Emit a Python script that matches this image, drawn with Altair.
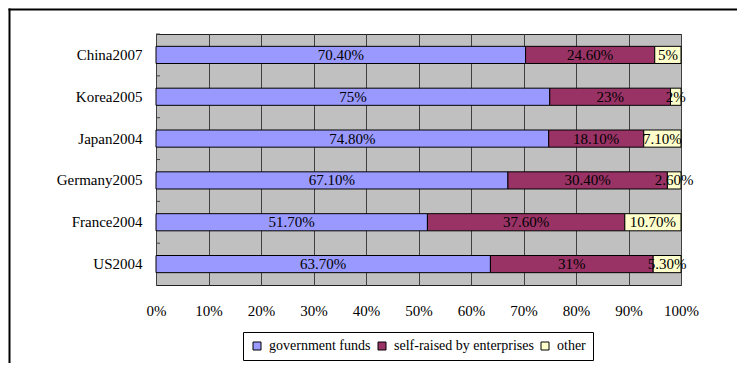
import altair as alt
import pandas as pd

countries = ["China2007", "Korea2005", "Japan2004", "Germany2005", "France2004", "US2004"]
series = ["government funds", "self-raised by enterprises", "other"]
government = [70.4, 75, 74.8, 67.1, 51.7, 63.7]
self_raised = [24.6, 23, 18.1, 30.4, 37.6, 31]
other = [5, 2, 7.1, 2.6, 10.7, 5.3]
gov_labels = ["70.40%", "75%", "74.80%", "67.10%", "51.70%", "63.70%"]
self_labels = ["24.60%", "23%", "18.10%", "30.40%", "37.60%", "31%"]
other_labels = ["5%", "2%", "7.10%", "2.60%", "10.70%", "5.30%"]
x_ticks = [0, 0.1, 0.2, 0.3, 0.4, 0.5, 0.6, 0.7, 0.8, 0.9, 1.0]
colors = ["#9999FF", "#993366", "#FFFFCC"]

rows = []
for vals, labs, s_idx in [(government, gov_labels, 0), (self_raised, self_labels, 1), (other, other_labels, 2)]:
    for c, v, l in zip(countries, vals, labs):
        rows.append({"country": c, "series": series[s_idx], "order": s_idx, "value": v, "label": l})
df = pd.DataFrame(rows)

FONT = "Liberation Serif"

base = alt.Chart(df).transform_stack(
    stack="value", as_=["start", "end"], groupby=["country"],
    sort=[alt.SortField("order", order="ascending")], offset="normalize"
).transform_calculate(mid="(datum.start + datum.end) / 2")

y_enc = alt.Y("country:N", sort=countries,
              scale=alt.Scale(paddingInner=0.59, paddingOuter=0.295),
              axis=alt.Axis(title=None, ticks=False, tickSize=0, domain=False, labelPadding=14,
                            labelFont=FONT, labelFontSize=15, labelColor="black"))

bars = base.mark_bar(stroke="black", strokeWidth=1, opacity=1).encode(
    x=alt.X("start:Q", scale=alt.Scale(domain=[0, 1], nice=False, zero=True),
            axis=alt.Axis(values=x_ticks, format=".0%", grid=True, ticks=False, tickSize=0,
                          domain=False, labelPadding=18, title=None, labelFont=FONT,
                          labelFontSize=15, labelColor="black", labelFlush=False,
                          gridColor="#404040", gridWidth=1, gridOpacity=1)),
    x2="end:Q",
    y=y_enc,
    color=alt.Color("series:N", scale=alt.Scale(domain=series, range=colors),
                    legend=alt.Legend(orient="none", legendX=87, legendY=298, direction="horizontal",
                                      title=None, strokeColor="black", fillColor="white", padding=7,
                                      labelFont=FONT, labelFontSize=14, labelColor="black",
                                      symbolType="square", symbolSize=64, symbolStrokeColor="black",
                                      symbolStrokeWidth=1, symbolOpacity=1, columnPadding=4,
                                      labelOffset=5, cornerRadius=0)),
)

text = base.mark_text(font=FONT, fontSize=15, color="black", baseline="middle").encode(
    x=alt.X("mid:Q"),
    y=alt.Y("country:N", sort=countries),
    text="label:N",
)

ticks_df = pd.DataFrame({"country": countries})
yticks = alt.Chart(ticks_df).mark_rule(color="#404040", strokeWidth=1).encode(
    y=alt.Y("country:N", sort=countries),
    yOffset=alt.value(-12.3),
    x=alt.value(0),
    x2=alt.value(4),
)

frame_df = pd.DataFrame({"a": [0]})
left_border = alt.Chart(frame_df).mark_rule(color="black", strokeWidth=2).encode(
    x=alt.value(-146.5), y=alt.value(-25.5), y2=alt.value(330)
)
top_border = alt.Chart(frame_df).mark_rule(color="black", strokeWidth=2).encode(
    x=alt.value(-147.5), x2=alt.value(581), y=alt.value(-24.5)
)

chart = alt.layer(bars, yticks, text, left_border, top_border).properties(
    width=525, height=251,
    autosize=alt.AutoSizeParams(type="none"),
    padding={"left": 148, "top": 26, "right": 56, "bottom": 78},
).configure(
    background="white"
).configure_view(
    fill="#C0C0C0", stroke="#202020", strokeWidth=1
)

chart.save("out.html", embed_options={"renderer": "svg", "actions": False})
